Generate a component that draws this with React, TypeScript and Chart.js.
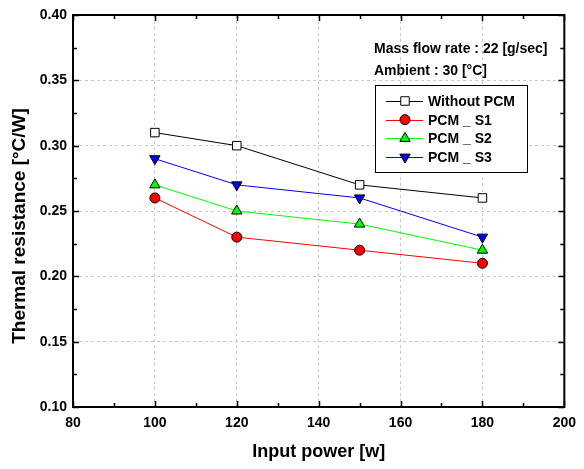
import React, { useEffect, useRef } from "react";
import { Chart, registerables } from "chart.js";

Chart.register(...registerables);

const inputPower = [100, 120, 150, 180];
const withoutPCM = [0.31, 0.30, 0.27, 0.26];
const pcmS1 = [0.26, 0.23, 0.22, 0.21];
const pcmS2 = [0.27, 0.25, 0.24, 0.22];
const pcmS3 = [0.29, 0.27, 0.26, 0.23];
const seriesNames = ["Without PCM", "PCM _ S1", "PCM _ S2", "PCM _ S3"];
const notes = ["Mass flow rate : 22 [g/sec]", "Ambient : 30 [°C]"];
const xTitle = "Input power [w]";
const yTitle = "Thermal resistance [°C/W]";

const FONT = "'Liberation Sans', Arial, sans-serif";

type Marker = { style: string; rot: number; fill: string; line: string; r: number };
const markers: Marker[] = [
  { style: "rect", rot: 0, fill: "#ffffff", line: "#000000", r: 6 },
  { style: "circle", rot: 0, fill: "#ff0000", line: "#ff0000", r: 5 },
  { style: "triangle", rot: 0, fill: "#00ff00", line: "#00ff00", r: 6 },
  { style: "triangle", rot: 180, fill: "#0000ff", line: "#0000ff", r: 6 },
];

function drawMarker(ctx: CanvasRenderingContext2D, m: Marker, x: number, y: number) {
  ctx.save();
  ctx.fillStyle = m.fill;
  ctx.strokeStyle = "#000";
  ctx.lineWidth = 1;
  ctx.beginPath();
  if (m.style === "circle") {
    ctx.arc(x, y, m.r, 0, Math.PI * 2);
  } else if (m.style === "rect") {
    const s = m.r * Math.SQRT1_2;
    ctx.rect(x - s, y - s, 2 * s, 2 * s);
  } else {
    const rad = (m.rot * Math.PI) / 180;
    for (let i = 0; i < 3; i++) {
      const a = rad - Math.PI / 2 + (i * 2 * Math.PI) / 3;
      const px = x + Math.cos(a) * m.r;
      const py = y + Math.sin(a) * m.r;
      if (i === 0) ctx.moveTo(px, py);
      else ctx.lineTo(px, py);
    }
    ctx.closePath();
  }
  ctx.fill();
  ctx.stroke();
  ctx.restore();
}

const framePlugin = {
  id: "framePlugin",
  afterDraw(chart: any) {
    const ctx: CanvasRenderingContext2D = chart.ctx;
    const { left, right, top, bottom } = chart.chartArea;
    const xs = chart.scales.x;
    const ys = chart.scales.y;
    ctx.save();
    ctx.strokeStyle = "#000";
    ctx.lineWidth = 1.5;
    for (let v = 80; v <= 200; v += 10) {
      const px = Math.round(xs.getPixelForValue(v)) + 0.5;
      const len = v % 20 === 0 ? 6 : 4;
      ctx.beginPath();
      ctx.moveTo(px, bottom);
      ctx.lineTo(px, bottom - len);
      ctx.moveTo(px, top);
      ctx.lineTo(px, top + len);
      ctx.stroke();
    }
    for (let i = 0; i <= 12; i++) {
      const v = 0.1 + i * 0.025;
      const py = Math.round(ys.getPixelForValue(v)) + 0.5;
      const len = i % 2 === 0 ? 6 : 4;
      ctx.beginPath();
      ctx.moveTo(left, py);
      ctx.lineTo(left + len, py);
      ctx.moveTo(right, py);
      ctx.lineTo(right - len, py);
      ctx.stroke();
    }
    ctx.lineWidth = 2;
    ctx.strokeRect(left, top, right - left, bottom - top);

    // y axis title
    ctx.save();
    ctx.translate(20, 226);
    ctx.rotate(-Math.PI / 2);
    ctx.fillStyle = "#000";
    ctx.font = `bold 19px ${FONT}`;
    ctx.textAlign = "center";
    ctx.textBaseline = "middle";
    ctx.fillText(yTitle, 0, 0);
    ctx.restore();

    ctx.fillStyle = "#000";
    ctx.font = `bold 14px ${FONT}`;
    ctx.textBaseline = "middle";
    ctx.textAlign = "left";
    ctx.fillText(notes[0], 374, 49);
    ctx.fillText(notes[1], 374, 71);

    const bx = 375, by = 85, bw = 152, bh = 87;
    ctx.fillStyle = "#fff";
    ctx.fillRect(bx, by, bw, bh);
    ctx.lineWidth = 1;
    ctx.strokeStyle = "#000";
    ctx.strokeRect(bx + 0.5, by + 0.5, bw, bh);
    const dsets = chart.data.datasets;
    for (let i = 0; i < dsets.length; i++) {
      const y = 101 + i * 18.7;
      ctx.strokeStyle = dsets[i].borderColor;
      ctx.lineWidth = 1;
      ctx.beginPath();
      ctx.moveTo(386, Math.round(y) + 0.5);
      ctx.lineTo(423, Math.round(y) + 0.5);
      ctx.stroke();
      drawMarker(ctx, markers[i], 405, y);
      ctx.fillStyle = "#000";
      ctx.font = `bold 14px ${FONT}`;
      ctx.fillText(dsets[i].label, 428, y + 1);
    }
    ctx.restore();
  },
};

export default function App() {
  const ref = useRef<HTMLCanvasElement | null>(null);
  useEffect(() => {
    if (!ref.current) return;
    const series = [withoutPCM, pcmS1, pcmS2, pcmS3];
    const colors = ["#000000", "#ff0000", "#00ff00", "#0000ff"];
    const chart = new Chart(ref.current, {
      type: "line",
      data: {
        datasets: series.map((s, i) => ({
          label: seriesNames[i],
          data: s.map((v, j) => ({ x: inputPower[j], y: v })),
          borderColor: colors[i],
          borderWidth: 1,
          backgroundColor: markers[i].fill,
          pointBackgroundColor: markers[i].fill,
          pointBorderColor: "#000000",
          pointBorderWidth: 1,
          pointStyle: markers[i].style as any,
          pointRotation: markers[i].rot,
          pointRadius: markers[i].r,
          tension: 0,
        })),
      },
      options: {
        animation: false,
        responsive: true,
        maintainAspectRatio: false,
        layout: { padding: { left: 0, right: 14, top: 15, bottom: 0 } },
        plugins: { legend: { display: false }, tooltip: { enabled: false } },
        scales: {
          x: {
            type: "linear",
            min: 80,
            max: 200,
            afterFit: (s: any) => { s.height = 62; },
            ticks: {
              stepSize: 20,
              padding: 8,
              color: "#000",
              font: { family: FONT, size: 14, weight: "bold" },
            },
            grid: { color: "#c8c8c8", drawTicks: false, lineWidth: 1 },
            border: { display: false, dash: [3, 3] },
            title: {
              display: true,
              text: xTitle,
              color: "#000",
              font: { family: FONT, size: 18, weight: "bold" },
              padding: { top: 4, bottom: 6 },
            },
          },
          y: {
            type: "linear",
            min: 0.1,
            max: 0.4,
            afterFit: (s: any) => { s.width = 73; },
            ticks: {
              stepSize: 0.05,
              padding: 6,
              color: "#000",
              font: { family: FONT, size: 14, weight: "bold" },
              callback: (v: any) => Number(v).toFixed(2),
            },
            grid: { color: "#c8c8c8", drawTicks: false, lineWidth: 1 },
            border: { display: false, dash: [3, 3] },
            title: { display: false },
          },
        },
      },
      plugins: [framePlugin],
    } as any);
    return () => chart.destroy();
  }, []);
  return (
    <div style={{ position: "absolute", left: 0, top: 0, width: 584, height: 469, background: "#fff" }}>
      <canvas ref={ref} />
    </div>
  );
}
